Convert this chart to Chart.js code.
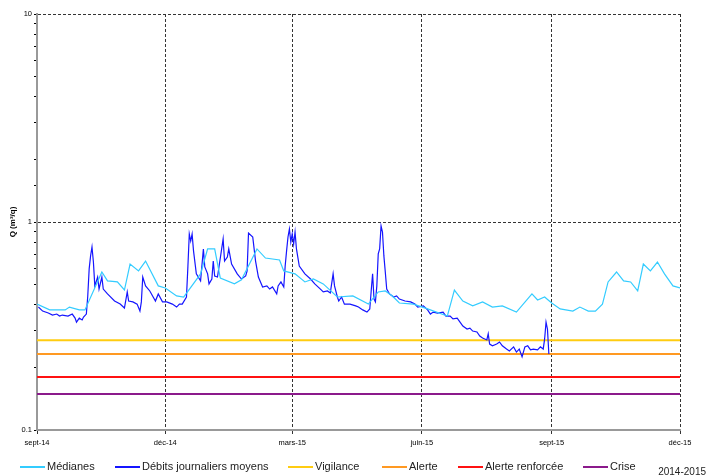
<!DOCTYPE html>
<html>
<head>
<meta charset="utf-8">
<script src="https://cdn.jsdelivr.net/npm/chart.js@4/dist/chart.umd.min.js"></script>
<style>
  html, body { margin: 0; padding: 0; background: #fff; }
</style>
</head>
<body>
<canvas id="chart" width="708" height="475"></canvas>
<script>
// x = days since 1 sept 2014
const tickDays = [0, 91, 181, 273, 365, 456];
const tickLabels = ['sept-14', 'déc-14', 'mars-15', 'juin-15', 'sept-15', 'déc-15'];

const medianDays = [0, 9, 20, 23, 30, 34, 46, 50, 57, 62, 66, 72, 77, 86, 91, 99, 104, 116, 121, 126, 130, 140, 145, 156, 162, 172, 175, 183, 190, 196, 203, 213, 224, 235, 242, 247, 252, 257, 267, 277, 291, 296, 302, 309, 316, 323, 330, 340, 351, 355, 360, 365, 371, 380, 385, 391, 396, 401, 405, 411, 416, 421, 426, 430, 435, 440, 445, 451, 456];
const medianValues = [0.403, 0.378, 0.378, 0.390, 0.378, 0.378, 0.575, 0.521, 0.515, 0.471, 0.628, 0.582, 0.649, 0.493, 0.482, 0.441, 0.436, 0.563, 0.742, 0.742, 0.538, 0.504, 0.527, 0.742, 0.671, 0.657, 0.582, 0.563, 0.515, 0.532, 0.504, 0.436, 0.441, 0.403, 0.461, 0.466, 0.441, 0.408, 0.403, 0.382, 0.353, 0.471, 0.417, 0.395, 0.413, 0.390, 0.395, 0.369, 0.451, 0.422, 0.436, 0.408, 0.382, 0.373, 0.390, 0.373, 0.373, 0.403, 0.515, 0.575, 0.521, 0.515, 0.466, 0.628, 0.582, 0.642, 0.563, 0.493, 0.482];

const debitDays = [1, 4, 8, 11, 14, 16, 18, 22, 25, 27, 28, 30, 32, 33, 35, 36, 37, 38, 39, 40, 41, 43, 44, 46, 47, 50, 55, 59, 62, 64, 65, 68, 71, 73, 74, 75, 77, 80, 84, 86, 89, 92, 96, 99, 101, 103, 106, 107, 108, 109, 110, 111, 113, 116, 118, 119, 121, 122, 124, 125, 126, 128, 132, 133, 135, 136, 138, 142, 145, 148, 149, 150, 153, 155, 157, 160, 163, 165, 167, 170, 171, 173, 175, 176, 177, 178, 179, 180, 181, 182, 183, 184, 186, 190, 194, 197, 201, 203, 206, 208, 210, 211, 213, 214, 216, 218, 222, 226, 228, 231, 234, 236, 237, 238, 239, 240, 241, 242, 243, 244, 245, 246, 247, 248, 250, 253, 255, 257, 261, 265, 268, 270, 274, 277, 279, 281, 284, 288, 290, 293, 295, 298, 300, 302, 305, 307, 309, 312, 314, 316, 319, 320, 321, 323, 326, 328, 330, 333, 335, 338, 340, 342, 344, 346, 348, 350, 352, 355, 357, 359, 360, 361, 362, 363];
const debitValues = [0.390, 0.373, 0.365, 0.357, 0.361, 0.353, 0.357, 0.353, 0.361, 0.345, 0.330, 0.345, 0.338, 0.349, 0.361, 0.441, 0.595, 0.687, 0.758, 0.642, 0.493, 0.544, 0.476, 0.544, 0.476, 0.451, 0.417, 0.403, 0.386, 0.461, 0.417, 0.413, 0.403, 0.373, 0.413, 0.544, 0.493, 0.466, 0.417, 0.451, 0.413, 0.413, 0.403, 0.390, 0.403, 0.403, 0.436, 0.608, 0.876, 0.810, 0.876, 0.726, 0.563, 0.521, 0.742, 0.608, 0.563, 0.504, 0.532, 0.649, 0.550, 0.544, 0.829, 0.649, 0.679, 0.742, 0.628, 0.563, 0.532, 0.550, 0.582, 0.885, 0.847, 0.649, 0.544, 0.487, 0.493, 0.476, 0.487, 0.451, 0.493, 0.515, 0.487, 0.614, 0.726, 0.847, 0.925, 0.801, 0.876, 0.784, 0.895, 0.742, 0.614, 0.563, 0.532, 0.504, 0.476, 0.461, 0.466, 0.456, 0.563, 0.493, 0.436, 0.417, 0.436, 0.403, 0.403, 0.395, 0.390, 0.378, 0.369, 0.382, 0.466, 0.563, 0.426, 0.413, 0.493, 0.702, 0.742, 0.957, 0.895, 0.687, 0.575, 0.476, 0.451, 0.436, 0.441, 0.426, 0.417, 0.413, 0.403, 0.390, 0.395, 0.378, 0.361, 0.369, 0.365, 0.369, 0.353, 0.353, 0.342, 0.345, 0.330, 0.316, 0.306, 0.309, 0.299, 0.296, 0.283, 0.277, 0.271, 0.290, 0.259, 0.254, 0.259, 0.265, 0.254, 0.245, 0.240, 0.251, 0.237, 0.245, 0.225, 0.251, 0.254, 0.243, 0.245, 0.243, 0.251, 0.245, 0.274, 0.330, 0.306, 0.232];

const thresholdNames = ['Vigilance', 'Alerte', 'Alerte renforcée', 'Crise'];
const thresholdValues = [0.27, 0.232, 0.18, 0.149];
const thresholdColors = ['#FFCC11', '#FF9922', '#FF1111', '#8B1A8B'];

const yLabels = [0.1, 1, 10];
const yTitle = 'Q (m³/q)';
const periodLabel = '2014-2015';

const FONT = '"Liberation Sans", Arial, sans-serif';

function toPoints(xs, ys) {
  return xs.map((x, i) => ({ x: x, y: ys[i] }));
}

function isDecade(value) {
  const l = Math.log10(value);
  return Math.abs(l - Math.round(l)) < 1e-6;
}

const datasets = [
  {
    label: 'Médianes',
    data: toPoints(medianDays, medianValues),
    borderColor: '#33CCFF',
    borderWidth: 1.2,
  },
  {
    label: 'Débits journaliers moyens',
    data: toPoints(debitDays, debitValues),
    borderColor: '#1515FF',
    borderWidth: 1.2,
  },
];

thresholdNames.forEach((name, i) => {
  datasets.push({
    label: name,
    data: toPoints([tickDays[0], tickDays[tickDays.length - 1]], [thresholdValues[i], thresholdValues[i]]),
    borderColor: thresholdColors[i],
    borderWidth: 2,
  });
});

const legendStarts = [20, 115, 288, 382, 458, 583];

const bottomLegend = {
  id: 'bottomLegend',
  afterDraw(chart) {
    const ctx = chart.ctx;
    const y = 467;
    ctx.save();
    ctx.font = '11px ' + FONT;
    ctx.textBaseline = 'middle';
    ctx.textAlign = 'left';
    chart.data.datasets.forEach((ds, i) => {
      const x = legendStarts[i];
      ctx.strokeStyle = ds.borderColor;
      ctx.lineWidth = 2;
      ctx.beginPath();
      ctx.moveTo(x, y);
      ctx.lineTo(x + 25, y);
      ctx.stroke();
      ctx.fillStyle = '#222';
      ctx.fillText(ds.label, x + 27, y);
    });
    ctx.font = '10px ' + FONT;
    ctx.textAlign = 'right';
    ctx.fillText(periodLabel, 706, 472);
    ctx.restore();
  },
};

new Chart(document.getElementById('chart'), {
  type: 'line',
  data: { datasets: datasets },
  plugins: [bottomLegend],
  options: {
    responsive: false,
    animation: false,
    layout: { padding: { top: 14, right: 28, left: 0, bottom: 0 } },
    elements: {
      point: { radius: 0 },
      line: { tension: 0 },
    },
    plugins: {
      legend: { display: false },
      tooltip: { enabled: false },
    },
    scales: {
      x: {
        type: 'linear',
        min: tickDays[0],
        max: tickDays[tickDays.length - 1],
        afterBuildTicks: (scale) => {
          scale.ticks = tickDays.map((v) => ({ value: v }));
        },
        afterFit: (scale) => {
          scale.height = 45;
        },
        ticks: {
          autoSkip: false,
          maxRotation: 0,
          padding: 3,
          color: '#000',
          font: { size: 7.5, family: FONT },
          callback: (value) => tickLabels[tickDays.indexOf(value)],
        },
        grid: {
          color: (ctx) => (ctx.tick && ctx.tick.value === tickDays[0] ? 'rgba(0,0,0,0)' : '#333'),
          lineWidth: 1,
          tickLength: 5,
          tickColor: '#333',
          tickBorderDash: [3, 2],
        },
        border: { color: '#999', width: 2, dash: [3, 2] },
      },
      y: {
        type: 'logarithmic',
        min: 0.1,
        max: 10,
        afterFit: (scale) => {
          scale.width = 37;
        },
        ticks: {
          autoSkip: false,
          padding: 2,
          color: '#000',
          font: { size: 7.5, family: FONT },
          callback: (value) => (yLabels.some((v) => Math.abs(v - value) < 1e-9) ? String(value) : ''),
        },
        grid: {
          color: (ctx) =>
            ctx.tick && isDecade(ctx.tick.value) && ctx.tick.value > 0.15 ? '#333' : 'rgba(0,0,0,0)',
          lineWidth: 1,
          tickLength: 3,
          tickColor: '#000',
        },
        border: { color: '#999', width: 2, dash: [3, 2] },
        title: {
          display: true,
          text: yTitle,
          color: '#000',
          font: { size: 8, weight: 'bold', family: FONT },
          padding: { top: 8, bottom: 0 },
        },
      },
    },
  },
});
</script>
</body>
</html>
